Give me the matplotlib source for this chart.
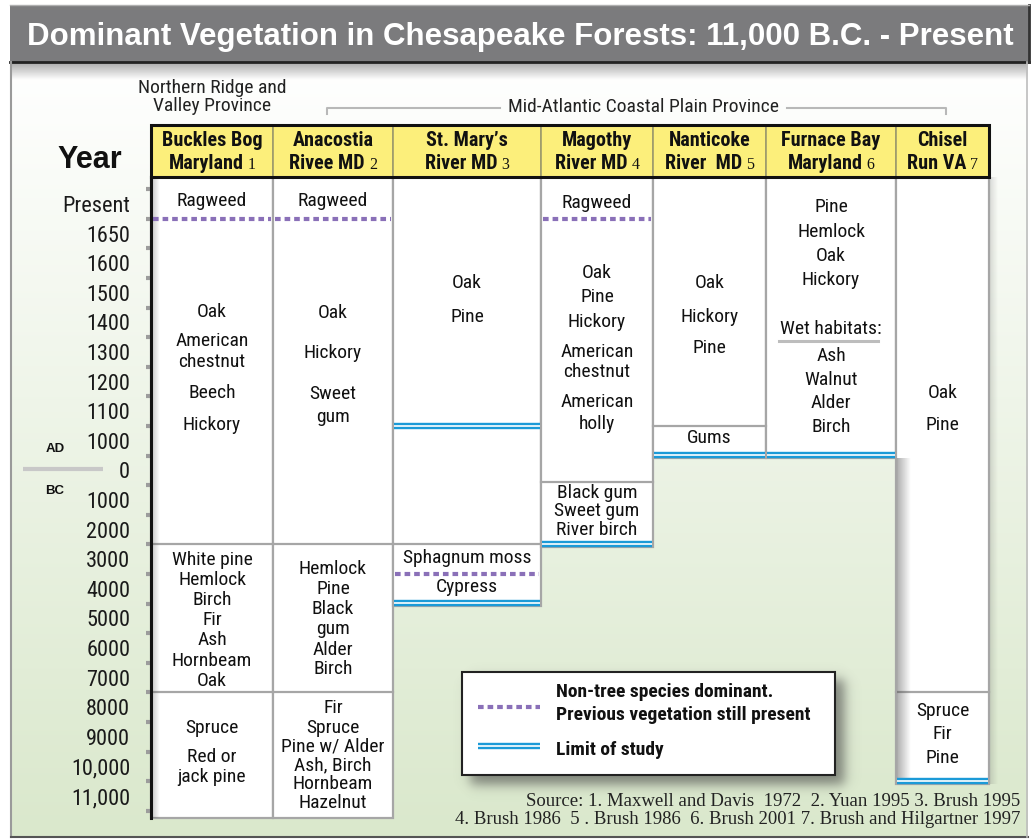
import numpy as np
import matplotlib
matplotlib.use("Agg")
import matplotlib.pyplot as plt
from matplotlib import font_manager
from matplotlib.patches import Rectangle

# ---------------- data ----------------
title = "Dominant Vegetation in Chesapeake Forests: 11,000 B.C. - Present"
year_labels = ["Present", "1650", "1600", "1500", "1400", "1300", "1200", "1100", "1000",
               "0", "1000", "2000", "3000", "4000", "5000", "6000", "7000", "8000", "9000",
               "10,000", "11,000"]
site_line1 = ["Buckles Bog", "Anacostia", "St. Mary’s", "Magothy", "Nanticoke", "Furnace Bay", "Chisel"]
site_line2 = ["Maryland", "Rivee MD", "River MD", "River MD", "River  MD", "Maryland", "Run VA"]
site_refs = ["1", "2", "3", "4", "5", "6", "7"]

# time positions are expressed in rows of the year axis (0 = "Present", 20 = "11,000")
record_end = [20.74, 20.74, 13.58, 11.58, 8.58, 8.58, 19.58]
zone_breaks = [[11.5, 16.5], [11.5, 16.5], [11.5], [9.4], [7.5], [], [16.5]]
nontree_breaks = [[0.5], [0.5], [12.5], [0.5], [], [], []]
study_limits = [[], [], [7.5, 13.48], [11.48], [8.48], [8.48], [19.48]]

veg_text = [
    [(-0.10, "Ragweed"), (3.65, "Oak"), (4.63, "American"), (5.34, "chestnut"), (6.39, "Beech"),
     (7.47, "Hickory"), (12.03, "White pine"), (12.70, "Hemlock"), (13.38, "Birch"), (14.05, "Fir"),
     (14.73, "Ash"), (15.44, "Hornbeam"), (16.11, "Oak"), (17.70, "Spruce"), (18.68, "Red or"),
     (19.36, "jack pine")],
    [(-0.10, "Ragweed"), (3.68, "Oak"), (5.03, "Hickory"), (6.42, "Sweet"), (7.20, "gum"),
     (12.33, "Hemlock"), (13.00, "Pine"), (13.68, "Black"), (14.36, "gum"), (15.07, "Alder"),
     (15.71, "Birch"), (17.03, "Fir"), (17.70, "Spruce"), (18.34, "Pine w/ Alder"),
     (18.95, "Ash, Birch"), (19.59, "Hornbeam"), (20.24, "Hazelnut")],
    [(2.67, "Oak"), (3.82, "Pine"), (11.96, "Sphagnum moss"), (12.94, "Cypress")],
    [(-0.03, "Ragweed"), (2.33, "Oak"), (3.14, "Pine"), (3.99, "Hickory"), (5.00, "American"),
     (5.68, "chestnut"), (6.69, "American"), (7.43, "holly"), (9.76, "Black gum"),
     (10.37, "Sweet gum"), (11.01, "River birch")],
    [(2.67, "Oak"), (3.82, "Hickory"), (4.86, "Pine"), (7.90, "Gums")],
    [(0.10, "Pine"), (0.95, "Hemlock"), (1.76, "Oak"), (2.57, "Hickory"), (4.22, "Wet habitats:"),
     (5.14, "Ash"), (5.95, "Walnut"), (6.72, "Alder"), (7.53, "Birch")],
    [(6.39, "Oak"), (7.47, "Pine"), (17.13, "Spruce"), (17.91, "Fir"), (18.72, "Pine")],
]
legend_text = ["Non-tree species dominant.", "Previous vegetation still present", "Limit of study"]
source_lines = ["Source: 1. Maxwell and Davis  1972  2. Yuan 1995 3. Brush 1995",
                "4. Brush 1986  5 . Brush 1986  6. Brush 2001 7. Brush and Hilgartner 1997"]

# ---------------- fonts ----------------
avail = {f.name for f in font_manager.fontManager.ttflist}
SANS = "Liberation Sans"
NARROW = "Roboto Condensed"
for cand in ["Liberation Sans Narrow", "Roboto Condensed", "Archivo Narrow", "PT Sans Narrow"]:
    if cand in avail:
        NARROW = cand
        break
SERIF = "Liberation Serif"

# ---------------- layout / style ----------------
W, H = 1031, 839
col_edges = [0, 122, 242, 390, 502, 615, 745, 838]
header_top, body_top, body_bottom = -2.67, -0.91, 20.74
GRAY = "#a6a6a6"
PURPLE = "#8a70b8"
BLUE = "#1b9ad7"
YELLOW = "#fcef7b"
INK = "#111111"

fig = plt.figure(figsize=(W / 100, H / 100), dpi=100)
fig.patch.set_facecolor("white")

# background / decoration axes in pixel units
bg = fig.add_axes([0, 0, 1, 1], zorder=0)
bg.axis("off")

t = np.linspace(0, 1, 256)[:, None]
c_top = np.array([1.0, 1.0, 1.0])
c_bot = np.array([0xda, 0xe8, 0xcc]) / 255
grad = (1 - t)[:, :, None] * c_top + t[:, :, None] * c_bot
bg.imshow(grad, extent=(11, 1028, 837, 62), aspect="auto", interpolation="bilinear", zorder=0)

# title shadow
sh = np.zeros((40, 1, 4))
sh[:, :, :3] = 0.25
sh[:, 0, 3] = np.linspace(0.45, 0.0, 40)
bg.imshow(sh, extent=(11, 1028, 80, 62), aspect="auto", interpolation="bilinear", zorder=1)

# legend shadow
xs = np.arange(450, 870)
ys = np.arange(660, 805)
def edge(v, a, b, s):
    return 1 / (1 + np.exp(-(v - a) / s)) / (1 + np.exp((v - b) / s))
lsh = np.zeros((len(ys), len(xs), 4))
lsh[:, :, :3] = 0.25
lsh[:, :, 3] = 0.6 * edge(ys, 679, 784, 3.5)[:, None] * edge(xs, 470, 844, 3.5)[None, :]
bg.imshow(lsh, extent=(450, 870, 805, 660), aspect="auto", interpolation="bilinear", zorder=1)

bg.add_patch(Rectangle((10, 5), 1019, 57, facecolor="#7b7b7d", edgecolor="none", zorder=2))
bg.plot([10, 1029], [62, 62], color="#222222", lw=2, zorder=3)
bg.plot([1029, 1029], [5, 62], color="#333333", lw=2, zorder=3)
bg.plot([10, 1029], [5, 5], color="#b0b0b0", lw=1, zorder=3)
bg.plot([11, 11], [62, 837], color="#9a9a9a", lw=1.5, zorder=3)
bg.plot([11, 1028], [837, 837], color="#555555", lw=1.5, zorder=3)
bg.plot([1027, 1027], [62, 837], color="#bdbdbd", lw=1.2, zorder=3)

bg.text(27, 37, title, color="white", fontweight="bold", fontsize=22.5, family=SANS,
        ha="left", va="center", zorder=4)

bg.text(212, 88, "Northern Ridge and", ha="center", va="center", family=NARROW, fontsize=14, color="#222")
bg.text(212, 106, "Valley Province", ha="center", va="center", family=NARROW, fontsize=14, color="#222")
bg.text(644, 107, "Mid-Atlantic Coastal Plain Province", ha="center", va="center", family=NARROW,
        fontsize=14, color="#222")
bg.plot([327, 327, 500], [114, 108, 108], color="#b8b8b8", lw=1.5)
bg.plot([787, 946, 946], [108, 108, 114], color="#b8b8b8", lw=1.5)

bg.text(90, 160, "Year", ha="center", va="center", family=SANS, fontweight="bold", fontsize=22, color=INK)
bg.text(55, 449, "AD", ha="center", va="center", family=SANS, fontweight="bold", fontsize=9.5, color=INK)
bg.text(55, 491, "BC", ha="center", va="center", family=SANS, fontweight="bold", fontsize=9.5, color=INK)
bg.plot([23, 103], [469, 469], color="#c8c8c8", lw=3, solid_capstyle="butt")

bg.text(1020, 801, source_lines[0], ha="right", va="center", family=SERIF, fontsize=13.5, color="#222")
bg.text(1020, 819, source_lines[1], ha="right", va="center", family=SERIF, fontsize=13.5, color="#222")

bg.set_xlim(0, W)
bg.set_ylim(H, 0)

# ---------------- main chart axes ----------------
ax = fig.add_axes([151 / W, 1 - 818 / H, 838 / W, (818 - 125) / H], zorder=2)
ax.set_facecolor("none")
for s in ax.spines.values():
    s.set_visible(False)
ax.set_xticks([])
ax.set_yticks(np.arange(len(year_labels)))
ax.set_yticklabels(year_labels, family=NARROW, fontsize=16, color="#1a1a1a")
ax.set_yticks(np.arange(-0.5, len(year_labels)), minor=True)
ax.tick_params(axis="y", which="major", length=0, pad=15)
ax.tick_params(axis="y", which="minor", length=3.8, width=3, color="#9c9c9c", direction="out")

for i in range(len(site_line1)):
    x0, x1 = col_edges[i], col_edges[i + 1]
    cx = (x0 + x1) / 2
    ax.add_patch(Rectangle((x0, body_top), x1 - x0, record_end[i] - body_top, facecolor="white",
                           edgecolor=GRAY, lw=1.6, zorder=1, clip_on=False))
    for y in zone_breaks[i]:
        ax.plot([x0, x1], [y, y], color=GRAY, lw=1.6, zorder=2, clip_on=False)
    for y in nontree_breaks[i]:
        ax.plot([x0 + 2, x1 - 2], [y, y], color=PURPLE, lw=3, dashes=(1.35, 0.95), zorder=3,
                clip_on=False)
    for y in study_limits[i]:
        ax.plot([x0 + 1, x1 - 1], [y, y], color=BLUE, lw=4.6, solid_capstyle="butt", zorder=3, clip_on=False)
        ax.plot([x0 + 1, x1 - 1], [y, y], color="white", lw=1.2, solid_capstyle="butt", zorder=3, clip_on=False)
    for y, s in veg_text[i]:
        ax.text(cx, y, s, ha="center", va="center", family=NARROW, fontsize=14,
                color=INK, zorder=4)
    # header cell
    ax.add_patch(Rectangle((x0, header_top), x1 - x0, body_top - header_top, facecolor=YELLOW,
                           edgecolor="#9e9b6c", lw=1.2, zorder=5, clip_on=False))
    ax.text(cx, -2.13, site_line1[i], ha="center", va="center", family=NARROW, fontweight="bold",
            fontsize=14.5, color=INK, zorder=7)

ax.add_patch(Rectangle((0, header_top), 838, body_top - header_top, fill=False, edgecolor=INK,
                       lw=2.2, zorder=6, clip_on=False))
ax.plot([0, 0], [body_top, body_bottom], color=INK, lw=2.2, zorder=6, clip_on=False)

# Wet habitats underline
ax.plot([628, 727], [4.63, 4.63], color="#bdbdbd", lw=2.2, zorder=3)

# shadows on columns
def hshadow(x0, x1, y0, y1, a0, a1):
    arr = np.zeros((2, 32, 4))
    arr[:, :, :3] = 0.3
    arr[:, :, 3] = np.linspace(a0, a1, 32)[None, :]
    ax.imshow(arr, extent=(x0, x1, y1, y0), aspect="auto", interpolation="bilinear", zorder=2,
              clip_on=False)

hshadow(1, 9, body_top, body_bottom, 0.30, 0.0)
hshadow(746, 760, 8.6, 19.4, 0.45, 0.0)
hshadow(839, 847, body_top, 19.58, 0.18, 0.0)

# legend
ax.add_patch(Rectangle((311, 15.81), 373, 3.48, facecolor="white", edgecolor="#222", lw=1.5, zorder=6))
ax.plot([327, 389], [16.99, 16.99], color=PURPLE, lw=3, dashes=(1.35, 0.95), zorder=7)
ax.plot([327, 389], [18.31, 18.31], color=BLUE, lw=4.6, solid_capstyle="butt", zorder=7)
ax.plot([327, 389], [18.31, 18.31], color="white", lw=1.2, solid_capstyle="butt", zorder=7)
ax.text(405, 16.49, legend_text[0], ha="left", va="center", family=NARROW, fontweight="bold",
        fontsize=14, color=INK, zorder=7)
ax.text(405, 17.26, legend_text[1], ha="left", va="center", family=NARROW, fontweight="bold",
        fontsize=14, color=INK, zorder=7)
ax.text(405, 18.45, legend_text[2], ha="left", va="center", family=NARROW, fontweight="bold",
        fontsize=14, color=INK, zorder=7)

ax.set_xlim(0, 838)
ax.set_ylim(body_bottom, header_top)

# header second lines with reference numbers, centred as a unit
renderer = fig.canvas.get_renderer()
for i in range(len(site_line2)):
    cx = (col_edges[i] + col_edges[i + 1]) / 2
    t1 = ax.text(0, -1.385, site_line2[i], ha="left", va="center", family=NARROW, fontweight="bold",
                 fontsize=14.5, color=INK, zorder=7)
    t2 = ax.text(0, -1.385, site_refs[i], ha="left", va="center", family=SERIF,
                 fontsize=11.5, color=INK, zorder=7)
    w1 = t1.get_window_extent(renderer).width
    w2 = t2.get_window_extent(renderer).width
    gap = 4
    left = cx - (w1 + gap + w2) / 2
    t1.set_x(left)
    t2.set_x(left + w1 + gap)
    t2.set_y(-1.32)

fig.savefig("out.png", dpi=100, facecolor="white")
